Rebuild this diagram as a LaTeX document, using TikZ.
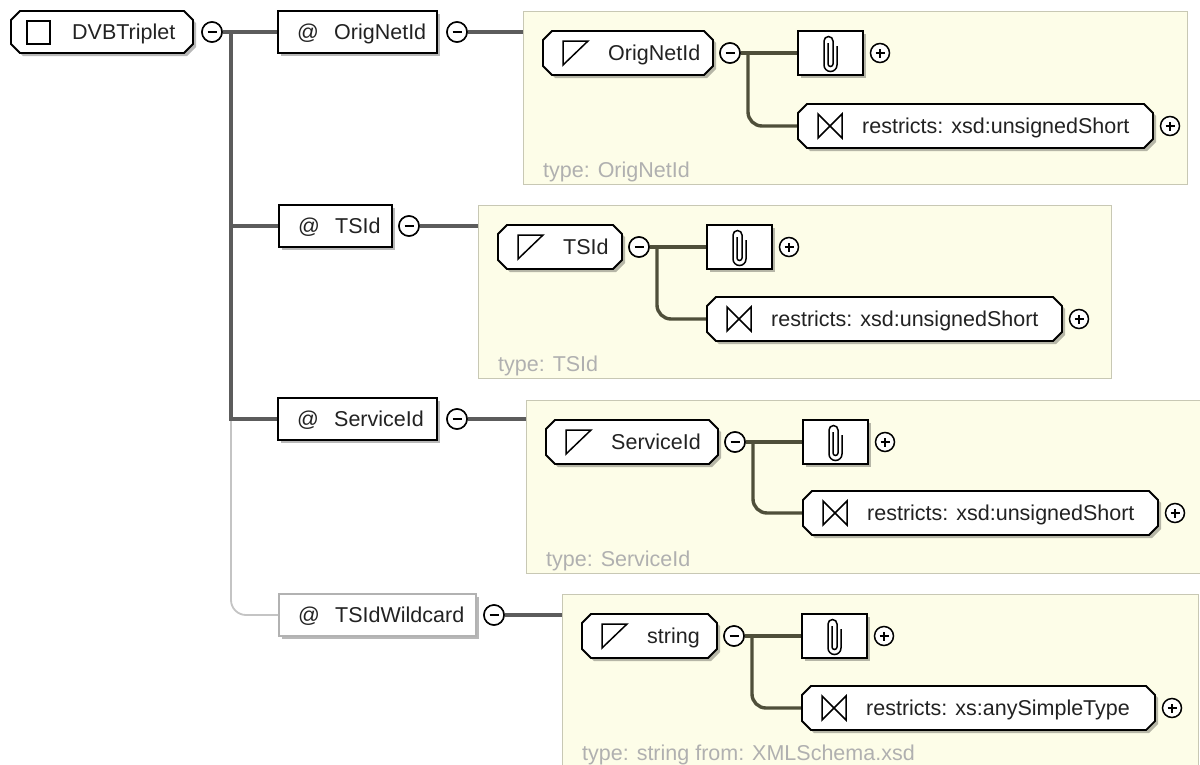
\documentclass[tikz,border=0pt]{standalone}
\usepackage{fontspec}
\setmainfont{Liberation Sans}
\usetikzlibrary{shadows}
\definecolor{panelfill}{HTML}{FDFDE8}
\definecolor{panelborder}{HTML}{C8C8B4}
\definecolor{mainline}{HTML}{5C5C5C}
\definecolor{inline}{HTML}{4F4F3A}
\definecolor{optline}{HTML}{C4C4C4}
\definecolor{typetext}{HTML}{B0B0B0}
\definecolor{txt}{HTML}{222222}
\newcommand\octpath[4]{%
  \filldraw[boxline, fill=white, shadowed] (#1+9,#2) -- (#3-9,#2) -- (#3,#2+9) -- (#3,#4-9) -- (#3-9,#4) -- (#1+9,#4) -- (#1,#4-9) -- (#1,#2+9) -- cycle;}
\newcommand\triicon[2]{\draw[iconline] (#1,#2-12) -- (#1+25,#2-12) -- (#1,#2+12) -- cycle;}
\newcommand\bowicon[2]{\draw[iconline] (#1,#2-12) -- (#1+24,#2+12) -- (#1+24,#2-12) -- (#1,#2+12) -- cycle;}
\newcommand\clipicon[2]{\draw[line width=1.5pt] (#1-2.5,#2-10) -- (#1-2.5,#2+11) arc[start angle=180,end angle=0,radius=2.5] -- (#1+2.5,#2-12) arc[start angle=0,end angle=-180,radius=4.5] -- (#1-6.5,#2+12) arc[start angle=180,end angle=0,radius=6.5] -- (#1+6.5,#2-7);}
\begin{document}
\begin{tikzpicture}[x=1pt,y=-1pt,
  shadowed/.style={drop shadow={shadow xshift=3pt,shadow yshift=-3pt,fill=black,opacity=0.28}},
  boxline/.style={draw=black,line width=1.8pt},
  iconline/.style={line width=1.5pt,line join=miter},
  panel/.style={draw=panelborder,fill=panelfill,line width=1.3pt,anchor=north west,inner sep=0,minimum height=173pt},
  attr/.style={rectangle,draw=black,line width=1.8pt,fill=white,shadowed,inner sep=0,minimum height=42pt},
  optattr/.style={attr,draw=gray!60},
  lbl/.style={anchor=base west,inner sep=0,text=txt,font=\fontsize{21.5}{25}\selectfont},
  typelbl/.style={anchor=base west,inner sep=0,text=typetext,font=\fontsize{21.5}{25}\selectfont},
  clipbox/.style={rectangle,draw=black,line width=1.8pt,fill=white,shadowed,inner sep=0,minimum width=65pt,minimum height=44pt},
  minus/.style={circle,draw=black,line width=1.5pt,fill=white,inner sep=0,minimum size=20pt,
    path picture={\draw[line width=1.6pt] ([xshift=-4.5pt]path picture bounding box.center) -- ([xshift=4.5pt]path picture bounding box.center);}},
  plus/.style={circle,draw=black,line width=1.5pt,fill=white,inner sep=0,minimum size=19pt,
    path picture={\draw[line width=1.5pt] ([xshift=-4.5pt]path picture bounding box.center) -- ([xshift=4.5pt]path picture bounding box.center) ([yshift=-4.5pt]path picture bounding box.center) -- ([yshift=4.5pt]path picture bounding box.center);}},
  mline/.style={draw=mainline,line width=3.4pt},
  oline/.style={draw=optline,line width=1.8pt},
  pline/.style={draw=inline,line width=3.4pt},
]
\useasboundingbox (0,0) rectangle (1200,764);
\fill[white] (0,0) rectangle (1200,764);

% ---------- panels ----------
\node[panel,minimum width=664pt] (p1) at (523,11) {};
\node[panel,minimum width=633pt] (p2) at (478,205) {};
\node[panel,minimum width=680pt] (p3) at (526,400) {};
\node[panel,minimum width=636pt] (p4) at (562,594) {};

% ---------- root ----------
\octpath{11}{11}{193}{53}
\draw[iconline] (27,21) rectangle (50,44);
\node[lbl] (root) at (72,39.5) {DVBTriplet};
\node[minus] (c0) at (212,32) {};
\coordinate (j) at (231,32);

% ---------- attributes ----------
\node[attr,minimum width=159pt] (a1) at (357.5,32) {};
\node[lbl] (a1at) at (297,39.5) {@};
\node[lbl] (a1t) at (334,39.5) {OrigNetId};
\node[minus] (m1) at (457,32) {};

\node[attr,minimum width=113pt] (a2) at (335.5,226) {};
\node[lbl] (a2at) at (298,233.5) {@};
\node[lbl] (a2t) at (335,233.5) {TSId};
\node[minus] (m2) at (409,226) {};

\node[attr,minimum width=159pt] (a3) at (357.5,419) {};
\node[lbl] (a3at) at (297,426.5) {@};
\node[lbl] (a3t) at (334,426.5) {ServiceId};
\node[minus] (m3) at (457,419) {};

\node[optattr,minimum width=197pt] (a4) at (377.5,615) {};
\node[lbl] (a4at) at (298,622.5) {@};
\node[lbl] (a4t) at (335,622.5) {TSIdWildcard};
\node[minus] (m4) at (494,615) {};

% ---------- main connectors ----------
\draw[oline,rounded corners=15pt] (j |- a3.west) |- (a4.west);
\draw[mline] (c0.east) -- (a1.west);
\draw[mline] (j) |- (a2.west);
\draw[mline] (j) |- (a3.west);
\draw[mline] (m1.east) -- (m1.east -| p1.west);
\draw[mline] (m2.east) -- (m2.east -| p2.west);
\draw[mline] (m3.east) -- (m3.east -| p3.west);
\draw[mline] (m4.east) -- (m4.east -| p4.west);
\node[minus] at (c0) {};
\node[minus] at (m1) {};
\node[minus] at (m2) {};
\node[minus] at (m3) {};
\node[minus] at (m4) {};

% ---------- panel 1 ----------
\coordinate (t1) at (748,53);
\node[clipbox] (k1) at (830.5,53) {};
\node[minus] (o1) at (730,53) {};
\draw[pline] (o1.east) -- (k1.west);
\draw[pline,rounded corners=14pt] (t1) |- (798,126);
\octpath{543}{31}{713}{75}
\triicon{563}{53}
\node[lbl] (s1) at (608,60.5) {OrigNetId};
\node[minus] at (o1) {};
\clipicon{830.5}{53}
\node[plus] (k1p) at (880,53) {};
\octpath{798}{104}{1153}{148}
\bowicon{818}{126}
\node[lbl] (r1) at (862,133.5) {restricts: xsd:unsignedShort};
\node[plus] (r1p) at (1170,126) {};
\node[typelbl] (ty1) at (543,177) {type: OrigNetId};

% ---------- panel 2 ----------
\coordinate (t2) at (657,247);
\node[clipbox] (k2) at (739.5,247) {};
\node[minus] (o2) at (639,247) {};
\draw[pline] (o2.east) -- (k2.west);
\draw[pline,rounded corners=14pt] (t2) |- (707,319);
\octpath{498}{225}{622}{269}
\triicon{518}{247}
\node[lbl] (s2) at (563,254.5) {TSId};
\node[minus] at (o2) {};
\clipicon{739.5}{247}
\node[plus] (k2p) at (789,247) {};
\octpath{707}{297}{1062}{341}
\bowicon{727}{319}
\node[lbl] (r2) at (771,326.5) {restricts: xsd:unsignedShort};
\node[plus] (r2p) at (1079,319) {};
\node[typelbl] (ty2) at (498,371) {type: TSId};

% ---------- panel 3 ----------
\coordinate (t3) at (753,442);
\node[clipbox] (k3) at (835.5,442) {};
\node[minus] (o3) at (735,442) {};
\draw[pline] (o3.east) -- (k3.west);
\draw[pline,rounded corners=14pt] (t3) |- (803,513);
\octpath{546}{420}{718}{464}
\triicon{566}{442}
\node[lbl] (s3) at (611,449.5) {ServiceId};
\node[minus] at (o3) {};
\clipicon{835.5}{442}
\node[plus] (k3p) at (885,442) {};
\octpath{803}{491}{1158}{535}
\bowicon{823}{513}
\node[lbl] (r3) at (867,520.5) {restricts: xsd:unsignedShort};
\node[plus] (r3p) at (1175,513) {};
\node[typelbl] (ty3) at (546,566) {type: ServiceId};

% ---------- panel 4 ----------
\coordinate (t4) at (752,636);
\node[clipbox] (k4) at (834.5,636) {};
\node[minus] (o4) at (734,636) {};
\draw[pline] (o4.east) -- (k4.west);
\draw[pline,rounded corners=14pt] (t4) |- (802,708);
\octpath{582}{614}{717}{658}
\triicon{602}{636}
\node[lbl] (s4) at (647,643.5) {string};
\node[minus] at (o4) {};
\clipicon{834.5}{636}
\node[plus] (k4p) at (884,636) {};
\octpath{802}{686}{1155}{730}
\bowicon{822}{708}
\node[lbl] (r4) at (866,715.5) {restricts: xs:anySimpleType};
\node[plus] (r4p) at (1172,708) {};
\node[typelbl] (ty4) at (582,760) {type: string from: XMLSchema.xsd};
\end{tikzpicture}
\end{document}
